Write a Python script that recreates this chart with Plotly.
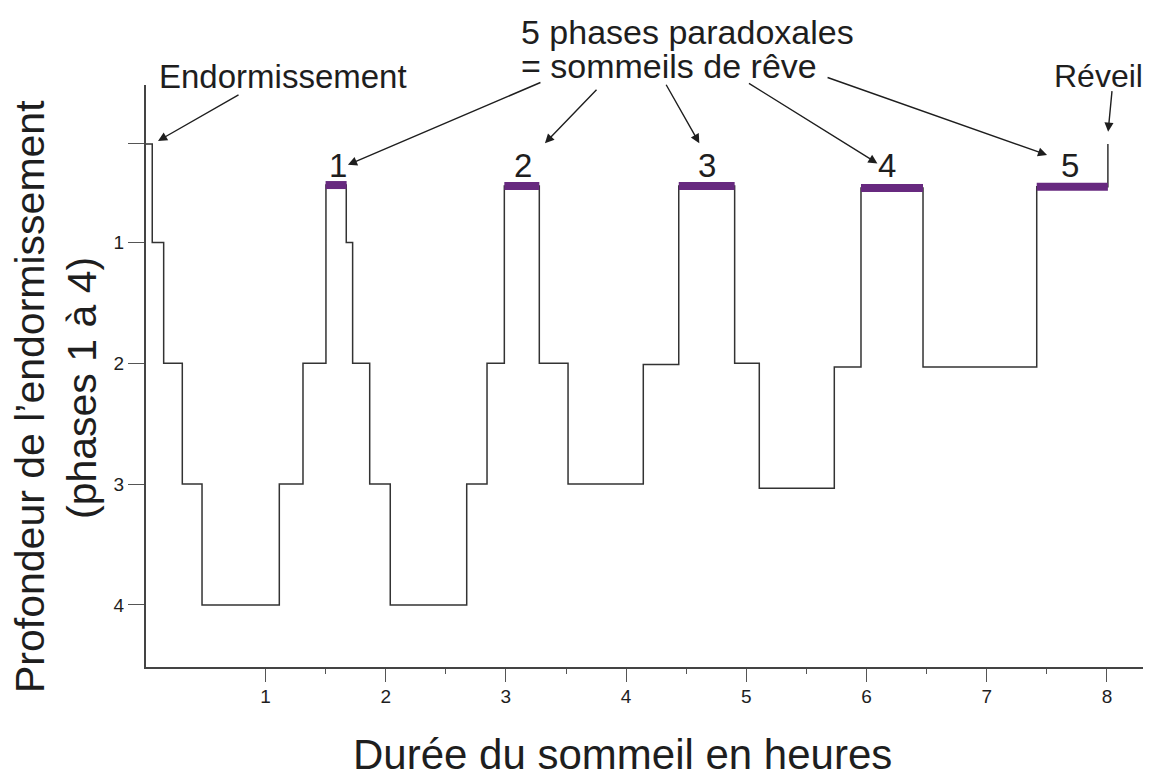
import plotly.graph_objects as go

# ---- data (hours, sleep depth level; reversed axis: 0 = awake at top) ----
AWAKE = 0.185
step_hours = [0, 0.058, 0.153, 0.308, 0.472, 1.115, 1.312, 1.503, 1.672, 1.725,
              1.867, 2.038, 2.674, 2.843, 2.987, 3.278, 3.517, 4.143, 4.438,
              4.903, 5.108, 5.732, 5.954, 6.470, 7.416, 8.008]
step_levels = [AWAKE, 1, 2, 3, 4, 3, 2, 0.525, 1, 2,
               3, 4, 3, 2, 0.533, 2, 3, 2.01, 0.533,
               2.0, 3.035, 2.03, 0.55, 2.03, 0.54, AWAKE]

rem_start = [1.500, 2.987, 4.438, 5.954, 7.416]
rem_end = [1.675, 3.278, 4.903, 6.470, 8.008]
rem_level = [0.525, 0.533, 0.533, 0.55, 0.54]
rem_labels = ["1", "2", "3", "4", "5"]
rem_label_x = [1.603, 3.146, 4.673, 6.170, 7.693]
rem_label_y = 0.36

x_ticks = [1, 2, 3, 4, 5, 6, 7, 8]
x_minor = [1.5, 2.5, 3.5, 4.5, 5.5, 6.5, 7.5]
y_ticks = [AWAKE, 1, 2, 3, 4]
y_ticktext = ["", "1", "2", "3", "4"]

FONT = "Liberation Sans, Arial, sans-serif"
TXT = "#1e1e1e"
PURPLE = "#67297f"

fig = go.Figure()
fig.add_trace(go.Scatter(x=step_hours, y=step_levels, mode="lines",
                         line=dict(color="#333333", width=1.5, shape="hv"),
                         hoverinfo="skip", showlegend=False))
for s, e, lv in zip(rem_start, rem_end, rem_level):
    fig.add_trace(go.Scatter(x=[s, e], y=[lv, lv], mode="lines",
                             line=dict(color=PURPLE, width=8),
                             hoverinfo="skip", showlegend=False))

# page body has an 8px default margin: the figure is offset by 8px
OFF = 8
FIG_W, FIG_H = 1151 - OFF, 778 - OFF
L, T, W, H = 146 - OFF, 85 - OFF, 1003, 582


def px(xp):
    return (xp - OFF - L) / W


def py(yp):
    return (T + H - (yp - OFF)) / H


ann = []
for lab, lx in zip(rem_labels, rem_label_x):
    ann.append(dict(x=lx, y=rem_label_y, xref="x", yref="y", text=lab,
                    showarrow=False, font=dict(family=FONT, size=33, color=TXT),
                    xanchor="center", yanchor="middle"))

# arrows: head in data coords, tail offset in pixels
arrows = [
    (0.106, 0.160, 82, -47),
    (1.686, 0.358, 194, -83),
    (3.325, 0.179, 53, -55),
    (4.609, 0.179, -34, -60),
    (6.091, 0.346, -130, -81),
    (7.502, 0.276, -221, -78),
    (8.010, 0.083, 4, -42),
]
for hx, hy, ax, ay in arrows:
    ann.append(dict(x=hx, y=hy, xref="x", yref="y", ax=ax, ay=ay, text="",
                    showarrow=True, arrowhead=2, arrowsize=1.3, arrowwidth=1.4,
                    arrowcolor="#1e1e1e", standoff=0, startstandoff=0))

ann += [
    dict(x=px(283), y=py(76), xref="paper", yref="paper", text="Endormissement",
         showarrow=False, font=dict(family=FONT, size=33, color=TXT),
         xanchor="center", yanchor="middle"),
    dict(x=px(519), y=py(32), xref="paper", yref="paper", text="5 phases paradoxales",
         showarrow=False, font=dict(family=FONT, size=34, color=TXT),
         xanchor="left", yanchor="middle"),
    dict(x=px(519), y=py(66), xref="paper", yref="paper", text="= sommeils de rêve",
         showarrow=False, font=dict(family=FONT, size=34, color=TXT),
         xanchor="left", yanchor="middle"),
    dict(x=px(1098), y=py(76), xref="paper", yref="paper", text="Réveil",
         showarrow=False, font=dict(family=FONT, size=32, color=TXT),
         xanchor="center", yanchor="middle"),
    dict(x=px(622), y=py(754), xref="paper", yref="paper",
         text="Durée du sommeil en heures",
         showarrow=False, font=dict(family=FONT, size=42, color=TXT),
         xanchor="center", yanchor="middle"),
    dict(x=px(30), y=py(397), xref="paper", yref="paper",
         text="Profondeur de l’endormissement", textangle=-90,
         showarrow=False, font=dict(family=FONT, size=41, color=TXT),
         xanchor="center", yanchor="middle"),
    dict(x=px(82), y=py(388), xref="paper", yref="paper",
         text="(phases 1 à 4)", textangle=-90,
         showarrow=False, font=dict(family=FONT, size=41, color=TXT),
         xanchor="center", yanchor="middle"),
]

fig.update_layout(
    width=FIG_W, height=FIG_H,
    margin=dict(l=L, r=FIG_W - L - W, t=T, b=FIG_H - T - H),
    paper_bgcolor="white", plot_bgcolor="white",
    annotations=ann,
    xaxis=dict(range=[0.006, 8.35], tickmode="array", tickvals=x_ticks,
               ticks="outside", ticklen=13, tickwidth=1.2, tickcolor="#555",
               showline=True, linecolor="#444", linewidth=2, showgrid=False,
               zeroline=False, ticklabelstandoff=-2,
               tickfont=dict(family=FONT, size=19, color=TXT),
               minor=dict(tickmode="array", tickvals=x_minor, ticks="outside",
                          ticklen=5, tickwidth=1.2, tickcolor="#555")),
    yaxis=dict(range=[4.514, -0.303], tickmode="array", tickvals=y_ticks,
               ticktext=y_ticktext, ticks="outside", ticklen=16, tickwidth=1.2,
               tickcolor="#555", showline=True, linecolor="#444", linewidth=2,
               showgrid=False, zeroline=False,
               tickfont=dict(family=FONT, size=19, color=TXT)),
)

fig.write_html("out.html")
